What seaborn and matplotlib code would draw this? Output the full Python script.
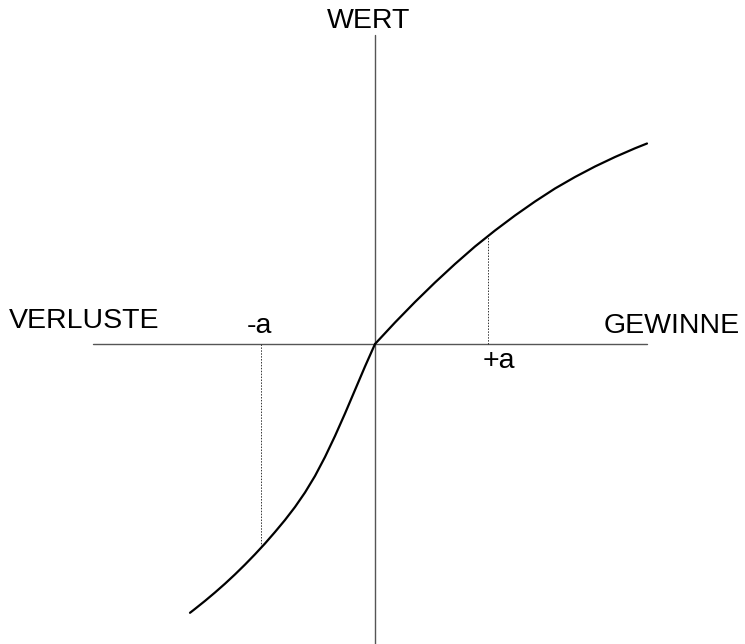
import matplotlib
matplotlib.use("Agg")
import matplotlib.pyplot as plt
import seaborn as sns

# Wertfunktion (Prospect Theory)
gain_x = [0, 20, 40, 60, 80, 100, 120, 140, 160, 180, 200, 220, 240, 260, 272]
gain_y = [0, 21.5, 42, 61.5, 80, 97.5, 113.5, 128.5, 142.5, 155.5, 167, 177.5, 187, 195.7, 200.5]

loss_x = [0, -10, -20, -30, -40, -50, -60, -70, -80, -90, -100,
          -110, -120, -130, -140, -150, -160, -170, -180, -185]
loss_y = [0, -22.5, -46, -69.5, -92, -113, -132, -148.5, -163, -176, -188,
          -199.5, -210.3, -220.6, -230.4, -239.7, -248.5, -256.9, -264.9, -268.8]

# Referenzpunkte +a / -a
a_gain = 113
a_gain_val = 108
a_loss = -114
a_loss_val = -204

sns.set_style("white")
plt.rcParams["font.family"] = ["Liberation Sans", "DejaVu Sans"]
plt.rcParams["text.color"] = "black"

fig = plt.figure(figsize=(7.45, 6.44), dpi=100)
ax = fig.add_axes([0, 0, 1, 1])
ax.set_xlim(-375, 370)
ax.set_ylim(-300, 344)
ax.axis("off")

# Achsen
axis_col = "#555555"
ax.plot([-282, 272], [0, 0], color=axis_col, lw=1.0, zorder=1)
ax.plot([0, 0], [-300, 309], color=axis_col, lw=1.0, zorder=1)

# Kurve
sns.lineplot(x=gain_x, y=gain_y, sort=False, estimator=None, color="black", lw=1.6, ax=ax, zorder=3)
sns.lineplot(x=loss_x, y=loss_y, sort=False, estimator=None, color="black", lw=1.6, ax=ax, zorder=3)

# gestrichelte Hilfslinien
ax.plot([a_gain, a_gain], [0, a_gain_val], color="#333333", lw=0.7, ls=(0, (1.5, 1.5)), zorder=2)
ax.plot([a_loss, a_loss], [0, a_loss_val], color="#333333", lw=0.7, ls=(0, (1.5, 1.5)), zorder=2)

fs = 20.5
ax.text(-6, 316, "WERT", fontsize=fs, color="black", ha="center", va="baseline")
ax.text(-366, 16, "VERLUSTE", fontsize=fs, color="black", ha="left", va="baseline")
ax.text(229, 11, "GEWINNE", fontsize=fs, color="black", ha="left", va="baseline")
ax.text(-116, 11, "-a", fontsize=fs, color="black", ha="center", va="baseline")
ax.text(124, -24, "+a", fontsize=fs, color="black", ha="center", va="baseline")

fig.savefig("out.png", dpi=100)
